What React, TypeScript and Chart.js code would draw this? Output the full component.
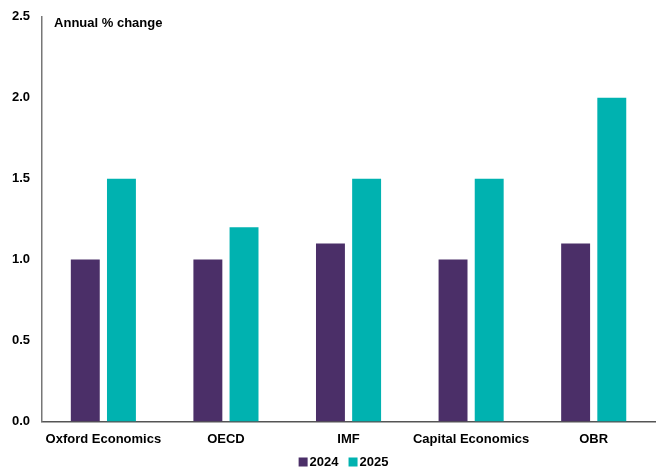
import React, { useEffect, useRef } from "react";
import { Chart, registerables } from "chart.js";

Chart.register(...registerables);

const categories = ["Oxford Economics", "OECD", "IMF", "Capital Economics", "OBR"];
const seriesNames = ["2024", "2025"];
const seriesColors = ["#4b2f68", "#00b2b0"];
const growth2024 = [1.0, 1.0, 1.1, 1.0, 1.1];
const growth2025 = [1.5, 1.2, 1.5, 1.5, 2.0];
const yTicks = [0, 0.5, 1.0, 1.5, 2.0, 2.5];
const unitLabel = "Annual % change";

const FONT = "'Liberation Sans', Arial, sans-serif";

// Unit caption in the top-left of the plot area
const unitLabelPlugin = {
  id: "unitLabel",
  afterDraw(chart: any) {
    const { ctx, chartArea } = chart;
    ctx.save();
    ctx.font = `bold 13px ${FONT}`;
    ctx.fillStyle = "#000";
    ctx.textBaseline = "middle";
    ctx.textAlign = "left";
    ctx.fillText(unitLabel, chartArea.left + 12, chartArea.top + 7);
    ctx.restore();
  },
};

// Compact legend under the x axis labels, centred on the plot area
const compactLegendPlugin = {
  id: "compactLegend",
  afterDraw(chart: any) {
    const { ctx, height, chartArea } = chart;
    ctx.save();
    ctx.font = `bold 13px ${FONT}`;
    ctx.textBaseline = "middle";
    ctx.textAlign = "left";
    const box = 9;
    const gapBoxText = 2;
    const gapItems = 10;
    const items = chart.data.datasets.map((ds: any) => ({
      label: ds.label,
      color: ds.backgroundColor,
      w: box + gapBoxText + ctx.measureText(ds.label).width,
    }));
    const total =
      items.reduce((s: number, it: any) => s + it.w, 0) + gapItems * (items.length - 1);
    const centre = (chartArea.left + chartArea.right) / 2 - 5;
    let x = centre - total / 2;
    const y = height - 7;
    for (const it of items) {
      ctx.fillStyle = it.color;
      ctx.fillRect(x, y - box / 2, box, box);
      ctx.fillStyle = "#000";
      ctx.fillText(it.label, x + box + gapBoxText, y + 0.5);
      x += it.w + gapItems;
    }
    ctx.restore();
  },
};

export default function App() {
  const canvasRef = useRef<HTMLCanvasElement | null>(null);

  useEffect(() => {
    document.body.style.margin = "0";
    const canvas = canvasRef.current;
    if (!canvas) return;
    const chart = new Chart(canvas, {
      type: "bar",
      data: {
        labels: categories,
        datasets: [
          {
            label: seriesNames[0],
            data: growth2024,
            backgroundColor: seriesColors[0],
            categoryPercentage: 0.59,
            barPercentage: 0.8,
          },
          {
            label: seriesNames[1],
            data: growth2025,
            backgroundColor: seriesColors[1],
            categoryPercentage: 0.59,
            barPercentage: 0.8,
          },
        ],
      },
      options: {
        responsive: false,
        animation: false,
        layout: { padding: { left: 0, right: 3, top: 4, bottom: 20 } },
        plugins: {
          legend: { display: false },
          tooltip: { enabled: false },
        },
        scales: {
          x: {
            grid: { display: false },
            border: { display: true, color: "#555", width: 1.5 },
            ticks: {
              color: "#000",
              padding: 2,
              maxRotation: 0,
              font: { family: FONT, size: 13, weight: "bold" },
            },
          },
          y: {
            min: 0,
            max: 2.5,
            afterBuildTicks(axis: any) {
              axis.ticks = yTicks.map((v) => ({ value: v }));
            },
            grid: { display: false, drawTicks: false },
            border: { display: true, color: "#777", width: 1.5 },
            ticks: {
              color: "#000",
              padding: 12,
              font: { family: FONT, size: 13, weight: "bold" },
              callback: (v: any) => Number(v).toFixed(1),
            },
          },
        },
      },
      plugins: [unitLabelPlugin, compactLegendPlugin],
    });
    return () => chart.destroy();
  }, []);

  return (
    <div
      style={{
        position: "absolute",
        left: 0,
        top: 0,
        width: 658,
        height: 469,
        overflow: "hidden",
      }}
    >
      <canvas
        ref={canvasRef}
        width={658}
        height={472}
        style={{ position: "absolute", left: 0, top: -3 }}
      />
    </div>
  );
}
